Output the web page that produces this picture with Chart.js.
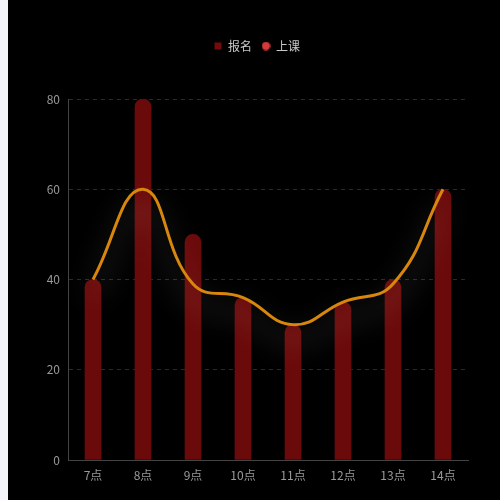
<!DOCTYPE html>
<html>
<head>
<meta charset="utf-8">
<script src="https://cdn.jsdelivr.net/npm/chart.js@4.4.1/dist/chart.umd.min.js"></script>
<style>
    html, body { margin: 0; padding: 0; background: #f3f5fa; }
    #wrap { position: absolute; left: 8px; top: 0; width: 492px; height: 500px; background: #000; }
</style>
</head>
<body>
<div id="wrap"><canvas id="chart"></canvas></div>
<script>
const hours = ['7点', '8点', '9点', '10点', '11点', '12点', '13点', '14点'];
const signups = [40, 80, 50, 36, 30, 35, 40, 60];
const classes = [40, 60, 39, 36, 30, 35, 39, 60];
const yTicks = [0, 20, 40, 60, 80];

const barColor = '#6b0a0a';
const lineColor = '#d8870c';
const legendDot = '#d43a3a';

// small legend icons drawn by hand
function makeIcon(shape, color) {
    const c = document.createElement('canvas');
    c.width = 9;
    c.height = 9;
    const g = c.getContext('2d');
    g.fillStyle = color;
    if (shape === 'rect') {
        g.fillRect(1, 1, 7, 7);
    } else {
        g.beginPath();
        g.arc(4.5, 4.5, 4.2, 0, Math.PI * 2);
        g.fill();
    }
    return c;
}
const icons = [makeIcon('rect', '#760b0b'), makeIcon('circle', legendDot)];

// glow under the smooth line
const lineGlow = {
    id: 'lineGlow',
    beforeDatasetDraw(chart, args) {
        if (args.index !== 1) return;
        const ctx = chart.ctx;
        ctx.save();
        ctx.shadowColor = 'rgba(255, 255, 255, 0.42)';
        ctx.shadowBlur = 28;
        ctx.shadowOffsetY = 16;
    },
    afterDatasetDraw(chart, args) {
        if (args.index !== 1) return;
        chart.ctx.restore();
    }
};

// extra space under the legend
const legendGap = {
    id: 'legendGap',
    beforeInit(chart) {
        const fit = chart.legend.fit;
        chart.legend.fit = function () {
            fit.bind(chart.legend)();
            this.height += 37;
        };
    }
};

new Chart(document.getElementById('chart'), {
    data: {
        labels: hours,
        datasets: [{
            type: 'bar',
            label: '报名',
            data: signups,
            backgroundColor: barColor,
            barThickness: 16,
            borderRadius: { topLeft: 8, topRight: 8 },
            borderSkipped: 'bottom',
            order: 2
        }, {
            type: 'line',
            label: '上课',
            data: classes,
            borderColor: lineColor,
            borderWidth: 3,
            pointRadius: 0,
            tension: 0.45,
            fill: false,
            order: 1
        }]
    },
    options: {
        responsive: true,
        maintainAspectRatio: false,
        animation: false,
        layout: { padding: { top: 30, right: 0, left: 6, bottom: 0 } },
        plugins: {
            legend: {
                position: 'top',
                labels: {
                    color: '#c8c8c8',
                    font: { family: 'Noto Sans CJK SC', size: 12 },
                    usePointStyle: true,
                    boxWidth: 8,
                    boxHeight: 8,
                    padding: 10,
                    generateLabels(chart) {
                        return chart.data.datasets.map((ds, i) => ({
                            text: ds.label,
                            fillStyle: i === 0 ? barColor : legendDot,
                            strokeStyle: 'transparent',
                            lineWidth: 0,
                            pointStyle: icons[i],
                            fontColor: '#c8c8c8',
                            datasetIndex: i
                        }));
                    }
                }
            },
            tooltip: { enabled: false }
        },
        scales: {
            x: {
                offset: true,
                grid: { display: false },
                border: { color: '#444' },
                ticks: {
                    color: '#999',
                    font: { family: 'Noto Sans CJK SC', size: 12 },
                    padding: 0
                },
                afterFit(scale) { scale.height = 40; }
            },
            y: {
                min: 0,
                max: 80,
                afterBuildTicks(scale) { scale.ticks = yTicks.map(v => ({ value: v })); },
                grid: { color: '#2a2a2a', tickLength: 0 },
                border: { color: '#444', dash: [4, 4] },
                ticks: {
                    color: '#999',
                    font: { family: 'Noto Sans CJK SC', size: 12 },
                    padding: 8
                },
                afterFit(scale) { scale.width = 54; }
            },
            // empty right axis, only keeps space on the right
            yRight: {
                position: 'right',
                display: true,
                grid: { display: false },
                border: { display: false },
                ticks: { display: false },
                afterFit(scale) { scale.width = 32; }
            }
        }
    },
    plugins: [lineGlow, legendGap]
});
</script>
</body>
</html>
